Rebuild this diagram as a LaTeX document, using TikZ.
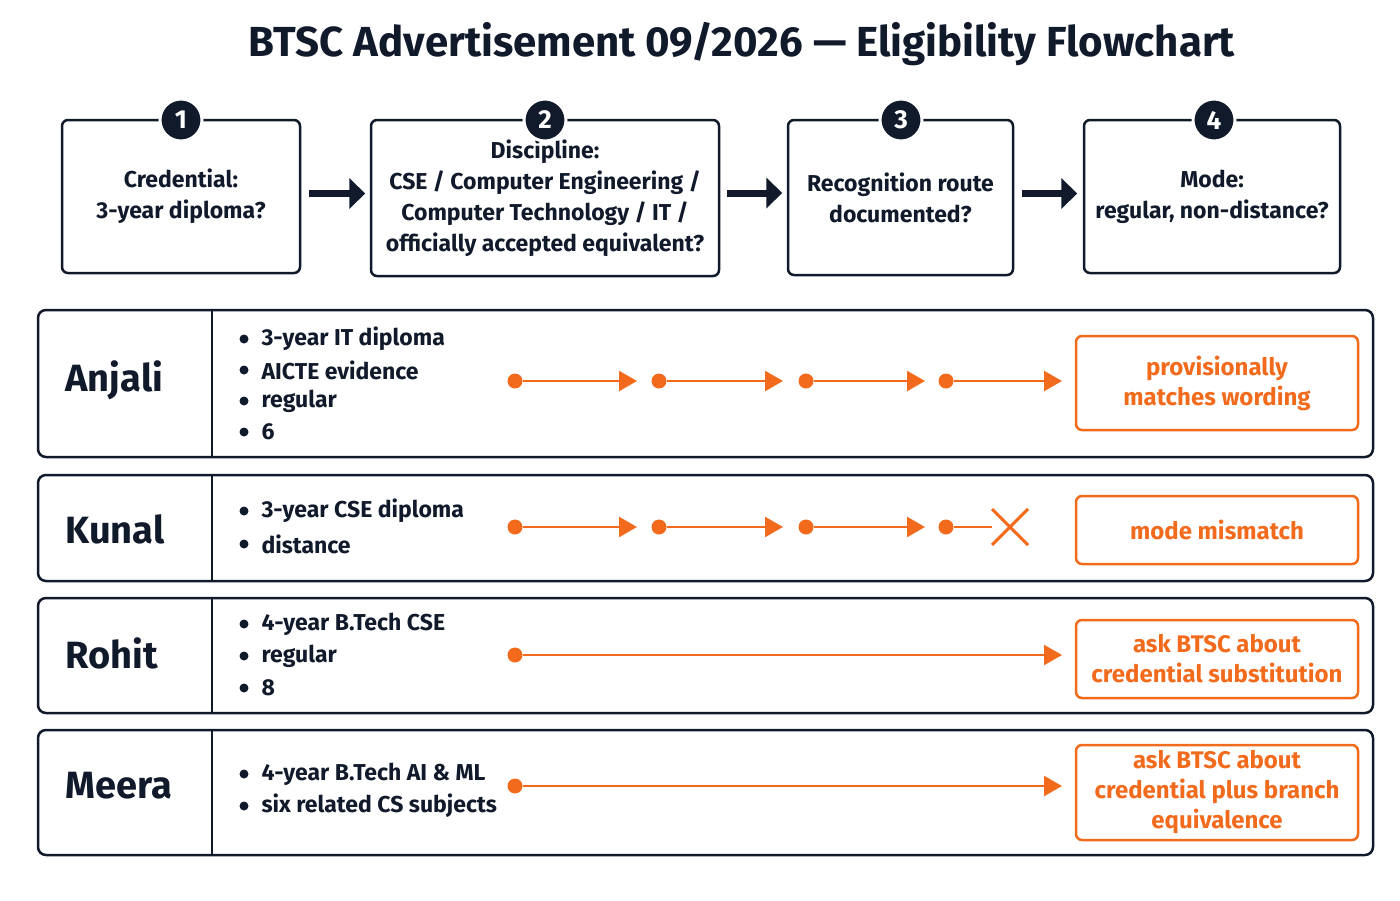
\documentclass[tikz,border=0pt]{standalone}
\usepackage{fontspec}
\setmainfont{Fira Sans}
\usetikzlibrary{arrows.meta}
\definecolor{navy}{HTML}{111A2B}
\definecolor{org}{HTML}{F26A1B}
\begin{document}
\begin{tikzpicture}[x=1pt,y=-1pt,
 stepbox/.style={draw=navy,line width=2.5pt,rounded corners=6pt,align=center,font=\fontsize{23}{31}\selectfont\bfseries\color{navy}},
 numc/.style={circle,fill=navy,minimum size=42pt,inner sep=0,text=white,font=\fontsize{26}{26}\selectfont\bfseries},
 bigarr/.style={-{Triangle[length=16pt,width=30pt]},line width=7pt,draw=navy},
 rowbox/.style={draw=navy,line width=2.5pt,rounded corners=8pt},
 pname/.style={anchor=west,font=\fontsize{38}{38}\selectfont\bfseries\color{navy}},
 bltext/.style={anchor=west,font=\fontsize{23}{23}\selectfont\bfseries\color{navy}},
 resbox/.style={draw=org,line width=2.5pt,rounded corners=6pt,align=center,text=org,font=\fontsize{24}{30}\selectfont\bfseries},
 odot/.style={circle,fill=org,minimum size=15pt,inner sep=0},
 oarr/.style={draw=org,line width=2.5pt,-{Triangle[length=18pt,width=20pt]}}]
\useasboundingbox (0,0) rectangle (1400,900);
\node[font=\fontsize{42}{42}\selectfont\bfseries\color{navy}] (title) at (742,44) {BTSC Advertisement 09/2026 — Eligibility Flowchart};
% steps
\node[stepbox,minimum width=238pt,minimum height=153pt] (s1) at (181,196.5) {Credential:\\3-year diploma?};
\node[stepbox,minimum width=348pt,minimum height=156pt] (s2) at (545,198) {Discipline:\\CSE / Computer Engineering /\\Computer Technology / IT /\\officially accepted equivalent?};
\node[stepbox,minimum width=225pt,minimum height=155pt] (s3) at (900.5,197.5) {Recognition route\\documented?};
\node[stepbox,minimum width=256pt,minimum height=153pt] (s4) at (1212,196.5) {Mode:\\regular, non-distance?};
\foreach \i/\x in {1/181,2/545,3/901,4/1214}{\node[numc,draw=white,line width=3pt] (n\i) at (\x,120) {\i};}
\draw[bigarr] (s1.east) ++(8,-3) coordinate (a1) (a1) -- ++(56,0);
\draw[bigarr] (s2.east) ++(7,-5) coordinate (a2) (a2) -- ++(55,0);
\draw[bigarr] (s3.east) ++(8,-4) coordinate (a3) (a3) -- ++(55,0);
% rows
\foreach \a/\b in {310/457,475/581,598/713,730/855}{
 \draw[rowbox] (38,\a) rectangle (1373,\b);
 \draw[navy,line width=2.5pt] (212,\a) -- (212,\b);}
\node[pname] (na) at (62,380) {Anjali};
\node[pname] (nk) at (62,529) {Kunal};
\node[pname] (nr) at (62,653) {Rohit};
\node[pname] (nm) at (62,786) {Meera};
\foreach \y/\t in {339/3-year IT diploma,370/AICTE evidence,401/regular,432/6/6 mark sheets,511/3-year CSE diploma,544/distance,624/4-year B.Tech CSE,656/regular,688/8/8 mark sheets,774/4-year B.Tech AI \& ML,806/six related CS subjects}{
 \fill[navy] (244,\y) circle (4.5pt);
 \node[bltext] at (258,\y) {\t};}
% results
\node[resbox,minimum width=282pt,minimum height=94pt] (ra) at (1217,383) {provisionally\\matches wording};
\node[resbox,minimum width=282pt,minimum height=68pt] (rk) at (1217,530) {mode mismatch};
\node[resbox,minimum width=282pt,minimum height=78pt] (rr) at (1217,659) {ask BTSC about\\credential substitution};
\node[resbox,minimum width=282pt,minimum height=95pt] (rm) at (1217,792.5) {ask BTSC about\\credential plus branch\\equivalence};
% chains
\foreach \x/\e [count=\i] in {515/637,659/783,806/925,946/1062}{
 \node[odot] (ad\i) at (\x,381) {}; \coordinate (ae\i) at (\e,381);
 \draw[oarr] (ad\i) -- (ae\i);}
\foreach \x/\e [count=\i] in {515/637,659/783,806/925}{
 \node[odot] (kd\i) at (\x,527) {}; \coordinate (ke\i) at (\e,527);
 \draw[oarr] (kd\i) -- (ke\i);}
\node[odot] (kd4) at (946,527) {};
\coordinate (kx) at (1010,527);
\draw[org,line width=2.5pt] (kd4) -- (992,527);
\draw[org,line width=3pt] (kx) ++(-18,-18) -- ++(36,36) (kx) ++(-18,18) -- ++(36,-36);
\node[odot] (rd) at (515,655) {}; \coordinate (re) at (1062,655);
\draw[oarr] (rd) -- (re);
\node[odot] (md) at (515,786) {}; \coordinate (me) at (1062,786);
\draw[oarr] (md) -- (me);
\end{tikzpicture}
\end{document}
